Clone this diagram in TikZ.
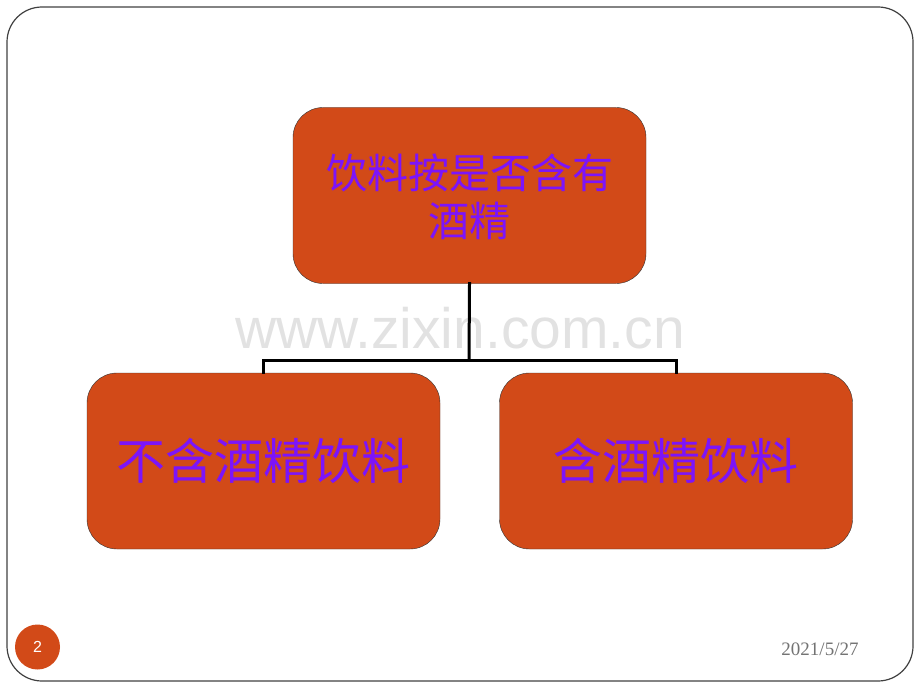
\documentclass[tikz,border=0pt]{standalone}
\usepackage{fontspec}
\setmainfont{Liberation Serif}
\newfontfamily\cjk{Noto Sans CJK SC}
\newfontfamily\wmfont{Liberation Sans}
\usepackage{tikz}
\definecolor{boxfill}{RGB}{210,74,24}
\definecolor{boxtext}{RGB}{124,20,250}
\definecolor{wmgray}{RGB}{226,226,226}

\begin{document}
\begin{tikzpicture}[x=1pt,y=-1pt,
    box/.style={draw=black!80, fill=boxfill, rounded corners=30pt,
        minimum width=353pt, minimum height=176pt, inner sep=0pt,
        text=boxtext, align=center},
    link/.style={line width=3pt, line cap=rect}]
    \useasboundingbox (0,0) rectangle (920,690);
    \draw[black!75, line width=1.2pt, rounded corners=35pt] (7,7) rectangle (913,681);

    % watermark
    \node(wm) at (460,328) {\wmfont\fontsize{57}{60}\selectfont\color{wmgray}www.zixin.com.cn};

    \node[box, font=\cjk\fontsize{41}{48}\selectfont, text depth=-6pt](top) at (469.5,195.5) {饮料按是否含有\\酒精};
    \node[box, font=\cjk\fontsize{49}{52}\selectfont](left) at (263.5,461) {不含酒精饮料};
    \node[box, font=\cjk\fontsize{49}{52}\selectfont](right) at (676,461) {含酒精饮料};

    \coordinate(mid) at (469,360);
    \draw[link](top.south) -- (mid);
    \draw[link](left.north) |- (mid) -| (right.north);

    \node[circle, fill=boxfill, minimum size=45pt, inner sep=0pt, text=white](page) at (37.5,647)
        {\wmfont\fontsize{16}{18}\selectfont 2};
    \node[text=black!55](date) at (820,649) {\fontsize{19}{21}\selectfont 2021/5/27};
\end{tikzpicture}
\end{document}
